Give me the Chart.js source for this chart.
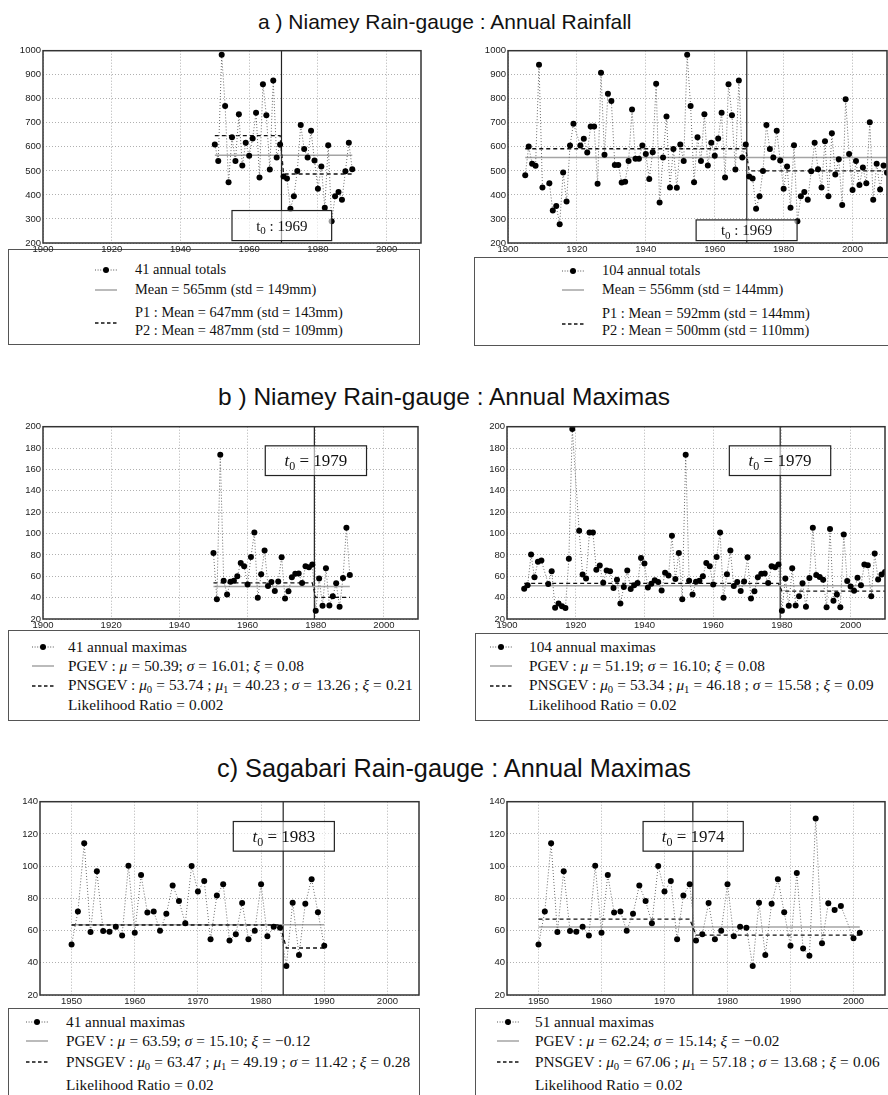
<!DOCTYPE html>
<html>
<head>
<meta charset="utf-8">
<script src="https://cdn.jsdelivr.net/npm/chart.js@4.4.0/dist/chart.umd.min.js"></script>
<style>
  body { margin:0; width:888px; height:1095px; overflow:hidden; background:#fff; position:relative; }
  canvas { position:absolute; z-index:2; }
  .title { position:absolute; white-space:nowrap; font-family:"Liberation Sans", Arial, sans-serif; line-height:1; color:#111; }
  .legend { position:absolute; border:1.5px solid #555; background:#fff; z-index:1; box-sizing:border-box; }
  .row { position:absolute; white-space:nowrap; font-family:"Liberation Serif", "Times New Roman", serif; line-height:1; color:#111; z-index:3; }
  .row sub { font-size:0.7em; vertical-align:-0.25em; line-height:0; }
  .eq { margin:0 0.25em; }
  .tex .eq { margin:0 0.27em; }
  svg { position:absolute; z-index:3; }
</style>
</head>
<body>

<div class="title" style="left:258px;top:10.8px;font-size:21px">a ) Niamey Rain-gauge : Annual Rainfall</div>
<div class="title" style="left:218px;top:385px;font-size:24.5px">b ) Niamey Rain-gauge : Annual Maximas</div>
<div class="title" style="left:217px;top:756px;font-size:25.3px">c) Sagabari Rain-gauge : Annual Maximas</div>

<canvas id="aL"></canvas>
<canvas id="aR"></canvas>
<canvas id="bL"></canvas>
<canvas id="bR"></canvas>
<canvas id="cL"></canvas>
<canvas id="cR"></canvas>

<script>
// Niamey years (1911 and 1920 missing)
const niameyYears = [1905,1906,1907,1908,1909,1910,1912,1913,1914,1915,1916,1917,1918,1919,
  1921,1922,1923,1924,1925,1926,1927,1928,1929,1930,1931,1932,1933,1934,1935,1936,1937,1938,1939,1940,
  1941,1942,1943,1944,1945,1946,1947,1948,1949,1950,1951,1952,1953,1954,1955,1956,1957,1958,1959,1960,
  1961,1962,1963,1964,1965,1966,1967,1968,1969,1970,1971,1972,1973,1974,1975,1976,1977,1978,1979,1980,
  1981,1982,1983,1984,1985,1986,1987,1988,1989,1990,1991,1992,1993,1994,1995,1996,1997,1998,1999,2000,
  2001,2002,2003,2004,2005,2006,2007,2008,2009,2010];

// annual rainfall totals (mm)
const niameyTotals = [482,601,530,521,942,431,449,335,354,278,493,373,606,696,
  606,634,576,685,685,446,908,567,821,791,525,525,452,455,541,755,551,551,606,570,
  466,578,862,368,556,726,431,591,430,610,541,983,770,453,640,541,736,522,617,563,
  635,742,472,860,731,506,876,556,610,477,468,342,394,500,691,591,556,667,543,426,
  518,347,607,291,394,412,380,499,617,507,431,623,394,657,485,548,358,798,570,420,
  541,441,514,449,702,380,530,423,522,492];

// annual maxima (mm)
const niameyMaxima = [48.4,51.5,80.3,59,73.5,74.7,52.8,64.8,30.5,34.5,32,30.2,76.3,197.8,
  102.6,61.7,58,101,101,66,70,54,65.5,64.8,49,56.8,34.5,50,65.5,48.1,51.5,53.7,77.2,72,
  49.4,53.1,56.2,54.6,46.6,63.3,60.8,97.9,57.5,81.8,38.5,173.8,55.8,43,54.9,55.8,60.1,72.5,69.4,52.4,
  78,100.9,39.8,62,84.2,50.9,54.6,46.3,55.2,77.7,39.1,46,59,62.3,62.6,53.7,69.4,68.5,71,27.7,
  58,32.4,67.6,32.7,41.3,53.4,31.4,58.3,105.5,61.1,59.3,56.8,31,104.3,37,43,31,99,55.5,50.5,
  46.5,58.5,51.5,71,70.4,41.3,81.3,57,61.7,64];

// Sagabari (1999 missing)
const sagabariYears = [1950,1951,1952,1953,1954,1955,1956,1957,1958,1959,1960,1961,1962,1963,1964,
  1965,1966,1967,1968,1969,1970,1971,1972,1973,1974,1975,1976,1977,1978,1979,1980,1981,1982,1983,
  1984,1985,1986,1987,1988,1989,1990,1991,1992,1993,1994,1995,1996,1997,1998,2000,2001];
const sagabariMaxima = [51.3,71.8,114.2,59.1,96.8,59.7,59.3,62.4,56.9,100.3,58.7,94.5,71.2,71.8,59.9,
  70.4,88,78.4,64.6,100.1,84.3,90.8,54.6,81.8,88.8,53.8,57.7,77.1,54.6,59.9,88.8,56.4,62.4,61.7,
  38,77.3,44.8,76.7,91.9,71.4,50.5,95.8,48.9,44.4,129.6,52.1,76.9,72.8,75.3,55.2,58.7];

// tick labels
const xTicksNiamey = [1900,1920,1940,1960,1980,2000];
const xTicksSagabari = [1950,1960,1970,1980,1990,2000];
const yTicksTotals = [200,300,400,500,600,700,800,900,1000];
const yTicksNiameyMax = [20,40,60,80,100,120,140,160,180,200];
const yTicksSagabari = [20,40,60,80,100,120,140];

// fitted levels: [overall mean, period 1, period 2]
const levelsAL = [565, 647, 487];
const levelsAR = [556, 592, 500];
const levelsBL = [50.39, 53.74, 40.23];
const levelsBR = [51.19, 53.34, 46.18];
const levelsCL = [63.59, 63.47, 49.19];
const levelsCR = [62.24, 67.06, 57.18];

function pick(years, vals, from, to) {
  const out = [];
  years.forEach((yr, i) => { if (yr >= from && yr <= to) out.push({x: yr, y: vals[i]}); });
  return out;
}

const W_Y = 36, H_X = 14, PAD_T = 6, PAD_R = 4;

function drawT0(ctx, cx, cy, text, size, italic) {
  const base = size + 'px "Liberation Serif", serif';
  const tFont = (italic ? 'italic ' : '') + base;
  const subFont = Math.round(size * 0.7) + 'px "Liberation Serif", serif';
  ctx.font = tFont; const wt = ctx.measureText('t').width;
  ctx.font = subFont; const ws = ctx.measureText('0').width;
  ctx.font = base; const wr = ctx.measureText(text).width;
  let x = cx - (wt + ws + wr) / 2;
  ctx.fillStyle = '#111';
  ctx.textBaseline = 'alphabetic';
  const by = cy + size * 0.33;
  ctx.font = tFont; ctx.fillText('t', x, by); x += wt;
  ctx.font = subFont; ctx.fillText('0', x, by + size * 0.22); x += ws;
  ctx.font = base; ctx.fillText(text, x, by);
}

const framePlugin = {
  id: 'frameBox',
  afterDatasetsDraw(chart, args, opts) {
    const {ctx, chartArea: a, scales: {x, y}} = chart;
    const b = opts.box;
    ctx.save();
    if (b) {
      const x0 = x.getPixelForValue(b.x0), x1 = x.getPixelForValue(b.x1);
      const y0 = y.getPixelForValue(b.y1), y1 = y.getPixelForValue(b.y0);
      ctx.fillStyle = 'rgba(255,255,255,0.6)';
      ctx.fillRect(x0, y0, x1 - x0, y1 - y0);
      ctx.strokeStyle = '#222'; ctx.lineWidth = 1.2;
      ctx.strokeRect(x0, y0, x1 - x0, y1 - y0);
      drawT0(ctx, (x0 + x1) / 2, (y0 + y1) / 2, b.text, b.size, b.italic);
    }
    ctx.strokeStyle = '#333'; ctx.lineWidth = 1.5;
    ctx.strokeRect(a.left, a.top, a.right - a.left, a.bottom - a.top);
    ctx.restore();
  }
};

function makePanel(id, r, p) {
  const cv = document.getElementById(id);
  cv.width = r.R - r.L + W_Y + PAD_R;
  cv.height = r.B - r.T + PAD_T + H_X;
  cv.style.left = (r.L - W_Y) + 'px';
  cv.style.top = (r.T - PAD_T) + 'px';
  const [mean, m1, m2] = p.levels;
  const tickFont = {family: '"Liberation Sans", Arial, sans-serif', size: 9.5};
  new Chart(cv, {
    type: 'line',
    data: {
      datasets: [
        { data: p.points, borderColor: '#6a6a6a', borderWidth: 1, borderDash: [1, 2],
          pointRadius: 3, pointBackgroundColor: '#000', pointBorderWidth: 0, order: 1 },
        { data: [{x: p.span[0], y: m1}, {x: p.split[0], y: m1}, {x: p.split[1], y: m2}, {x: p.span[1], y: m2}],
          borderColor: '#111', borderWidth: 1.3, borderDash: [4, 3], pointRadius: 0, order: 2 },
        { data: [{x: p.span[0], y: mean}, {x: p.span[1], y: mean}],
          borderColor: '#a4a4a4', borderWidth: 1.5, pointRadius: 0, order: 3 },
        { data: [{x: p.t0, y: p.yr[0]}, {x: p.t0, y: p.yr[1]}],
          borderColor: '#222', borderWidth: 1.2, pointRadius: 0, order: 4 }
      ]
    },
    options: {
      responsive: false, animation: false, devicePixelRatio: 1, events: [],
      layout: { padding: { top: PAD_T, right: PAD_R, left: 0, bottom: 0 } },
      plugins: { legend: { display: false }, tooltip: { enabled: false }, frameBox: { box: p.box } },
      scales: {
        x: {
          type: 'linear', min: p.xr[0], max: p.xr[1],
          afterBuildTicks: s => { s.ticks = p.xTicks.map(v => ({value: v})); },
          afterFit: s => { s.height = H_X; },
          grid: { color: '#9c9c9c', lineWidth: 0.8, drawTicks: false },
          border: { display: false, dash: [1, 2] },
          ticks: { font: tickFont, color: '#222', padding: 1, maxRotation: 0, callback: v => String(v) }
        },
        y: {
          min: p.yr[0], max: p.yr[1],
          afterBuildTicks: s => { s.ticks = p.yTicks.map(v => ({value: v})); },
          afterFit: s => { s.width = W_Y; },
          grid: { color: '#9c9c9c', lineWidth: 0.8, drawTicks: false },
          border: { display: false, dash: [1, 2] },
          ticks: { font: tickFont, color: '#222', padding: 2, callback: v => String(v) }
        }
      }
    },
    plugins: [framePlugin]
  });
}

makePanel('aL', {L: 43, T: 49, R: 421, B: 243}, {
  points: pick(niameyYears, niameyTotals, 1950, 1990), levels: levelsAL,
  span: [1950, 1990], split: [1969, 1970], t0: 1969.4,
  xr: [1900, 2010], yr: [200, 1000], xTicks: xTicksNiamey, yTicks: yTicksTotals,
  box: {x0: 1955, x1: 1984, y0: 210, y1: 335, text: ' : 1969', size: 15, italic: false}
});
makePanel('aR', {L: 508, T: 49, R: 887, B: 243}, {
  points: pick(niameyYears, niameyTotals, 1900, 2010), levels: levelsAR,
  span: [1905, 2010], split: [1969, 1970], t0: 1969.3,
  xr: [1900, 2010], yr: [200, 1000], xTicks: xTicksNiamey, yTicks: yTicksTotals,
  box: {x0: 1954.6, x1: 1983.9, y0: 210, y1: 296, text: ' : 1969', size: 15, italic: false}
});
makePanel('bL', {L: 43, T: 425, R: 418, B: 619}, {
  points: pick(niameyYears, niameyMaxima, 1950, 1990), levels: levelsBL,
  span: [1950, 1990], split: [1979, 1980], t0: 1979.6,
  xr: [1900, 2010], yr: [20, 200], xTicks: xTicksNiamey, yTicks: yTicksNiameyMax,
  box: {x0: 1965.2, x1: 1994.9, y0: 154.3, y1: 182.1, text: ' = 1979', size: 17, italic: true}
});
makePanel('bR', {L: 507, T: 425, R: 885, B: 619}, {
  points: pick(niameyYears, niameyMaxima, 1900, 2010), levels: levelsBR,
  span: [1905, 2010], split: [1979, 1980], t0: 1979.5,
  xr: [1900, 2010], yr: [20, 200], xTicks: xTicksNiamey, yTicks: yTicksNiameyMax,
  box: {x0: 1964.7, x1: 1994.2, y0: 154.3, y1: 182.1, text: ' = 1979', size: 17, italic: true}
});
makePanel('cL', {L: 40, T: 800, R: 419, B: 995}, {
  points: pick(sagabariYears, sagabariMaxima, 1950, 1990), levels: levelsCL,
  span: [1950, 1990], split: [1983, 1984], t0: 1983.5,
  xr: [1945, 2005], yr: [20, 140], xTicks: xTicksSagabari, yTicks: yTicksSagabari,
  box: {x0: 1975.6, x1: 1991.6, y0: 109.3, y1: 127.7, text: ' = 1983', size: 17, italic: true}
});
makePanel('cR', {L: 507, T: 800, R: 885, B: 995}, {
  points: pick(sagabariYears, sagabariMaxima, 1950, 2001), levels: levelsCR,
  span: [1950, 2001], split: [1974, 1975], t0: 1974.5,
  xr: [1945, 2005], yr: [20, 140], xTicks: xTicksSagabari, yTicks: yTicksSagabari,
  box: {x0: 1966.6, x1: 1982.5, y0: 109.3, y1: 127.7, text: ' = 1974', size: 17, italic: true}
});

// ---------- legends (HTML) ----------
function sym(kind, x, cy) {
  const w = 22;
  let inner = '';
  if (kind === 'series') inner = `<line x1="0" y1="5" x2="${w}" y2="5" stroke="#555" stroke-width="1" stroke-dasharray="1 1.6"/><circle cx="${w/2}" cy="5" r="3" fill="#000"/>`;
  if (kind === 'solid') inner = `<line x1="0" y1="5" x2="${w}" y2="5" stroke="#a4a4a4" stroke-width="1.5"/>`;
  if (kind === 'dash') inner = `<line x1="0" y1="5" x2="${w}" y2="5" stroke="#111" stroke-width="1.3" stroke-dasharray="3.5 2.5"/>`;
  return `<svg width="${w}" height="10" style="left:${x}px;top:${cy - 5}px">${inner}</svg>`;
}
function row(text, x, cy, size, cls) {
  const html = text.replace(/ = /g, '<span class="eq">=</span>');
  return `<div class="row ${cls}" style="left:${x}px;top:${(cy - 0.54 * size).toFixed(1)}px;font-size:${size}px">${html}</div>`;
}
function legend(box, symX, textX, rows, size, cls) {
  let h = `<div class="legend" style="left:${box[0]}px;top:${box[1]}px;width:${box[2]}px;height:${box[3]}px"></div>`;
  rows.forEach(r => {
    if (r.sym) h += sym(r.sym, symX, r.symY !== undefined ? r.symY : r.y);
    if (r.text) h += row(r.text, textX, r.y, size, cls || '');
  });
  document.body.insertAdjacentHTML('beforeend', h);
}
const mu = '<i>μ</i>', sg = '<i>σ</i>', xi = '<i>ξ</i>';

legend([8, 249, 412, 96], 95, 135, [
  {sym: 'series', y: 270, text: '41 annual totals'},
  {sym: 'solid', y: 289.5, text: 'Mean = 565mm (std = 149mm)'},
  {y: 313, text: 'P1 : Mean = 647mm (std = 143mm)'},
  {sym: 'dash', symY: 322.5, y: 330.5, text: 'P2 : Mean = 487mm (std = 109mm)'}
], 14.4);
legend([474, 257, 440, 89], 562, 602, [
  {sym: 'series', y: 271, text: '104 annual totals'},
  {sym: 'solid', y: 290, text: 'Mean = 556mm (std = 144mm)'},
  {y: 313.5, text: 'P1 : Mean = 592mm (std = 144mm)'},
  {sym: 'dash', symY: 323.5, y: 331, text: 'P2 : Mean = 500mm (std = 110mm)'}
], 14.4);
legend([8, 630, 412, 91], 32, 68, [
  {sym: 'series', y: 647, text: '41 annual maximas'},
  {sym: 'solid', y: 666, text: `PGEV : ${mu} = 50.39; ${sg} = 16.01; ${xi} = 0.08`},
  {sym: 'dash', y: 685.5, text: `PNSGEV : ${mu}<sub>0</sub> = 53.74 ; ${mu}<sub>1</sub> = 40.23 ; ${sg} = 13.26 ; ${xi} = 0.21`},
  {y: 705, text: 'Likelihood Ratio = 0.002'}
], 15.3, 'tex');
legend([475, 632.5, 440, 88.5], 490, 529, [
  {sym: 'series', y: 647, text: '104 annual maximas'},
  {sym: 'solid', y: 666, text: `PGEV : ${mu} = 51.19; ${sg} = 16.10; ${xi} = 0.08`},
  {sym: 'dash', y: 685.5, text: `PNSGEV : ${mu}<sub>0</sub> = 53.34 ; ${mu}<sub>1</sub> = 46.18 ; ${sg} = 15.58 ; ${xi} = 0.09`},
  {y: 705, text: 'Likelihood Ratio = 0.02'}
], 15.3, 'tex');
legend([8, 1008, 412, 120], 26, 66, [
  {sym: 'series', y: 1022, text: '41 annual maximas'},
  {sym: 'solid', y: 1041, text: `PGEV : ${mu} = 63.59; ${sg} = 15.10; ${xi} = −0.12`},
  {sym: 'dash', y: 1062, text: `PNSGEV : ${mu}<sub>0</sub> = 63.47 ; ${mu}<sub>1</sub> = 49.19 ; ${sg} = 11.42 ; ${xi} = 0.28`},
  {y: 1085, text: 'Likelihood Ratio = 0.02'}
], 15.3, 'tex');
legend([475, 1008, 440, 120], 497, 535, [
  {sym: 'series', y: 1022, text: '51 annual maximas'},
  {sym: 'solid', y: 1041, text: `PGEV : ${mu} = 62.24; ${sg} = 15.14; ${xi} = −0.02`},
  {sym: 'dash', y: 1062, text: `PNSGEV : ${mu}<sub>0</sub> = 67.06 ; ${mu}<sub>1</sub> = 57.18 ; ${sg} = 13.68 ; ${xi} = 0.06`},
  {y: 1085, text: 'Likelihood Ratio = 0.02'}
], 15.3, 'tex');
</script>
</body>
</html>
